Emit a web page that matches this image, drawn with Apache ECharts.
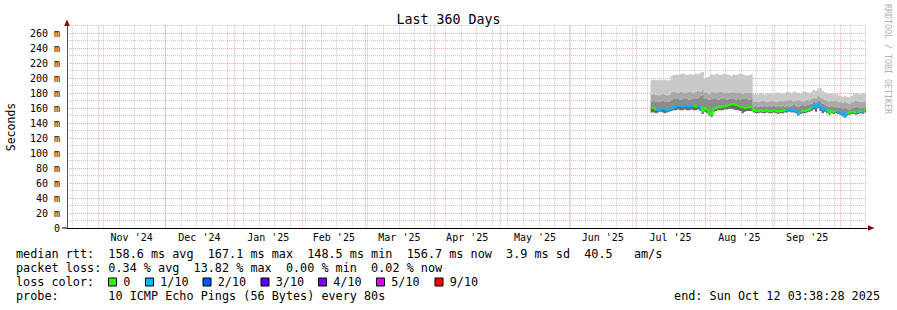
<!DOCTYPE html>
<html><head><meta charset="utf-8">
<script src="https://cdn.jsdelivr.net/npm/echarts@6/dist/echarts.min.js"></script>
<style>html,body{margin:0;padding:0;background:#fff}#c{width:897px;height:310px}</style>
</head><body><div id="c"></div>
<script>
// x values are days after 2024-11-01; first sample is day 249 (2025-07-08), one per day
const firstDay = 249;
const hi = [197,198,197,197,198,197,198,197,197,
  203,204,205,204,205,206,205,204,205,205,204,206,205,207,208,
  200,201,202,
  205,204,206,205,204,205,206,205,204,203,205,204,205,206,205,204,203,204,205,
  178,179,178,180,179,178,179,180,179,178,180,181,180,179,180,
  182,181,180,182,181,180,179,181,182,181,180,
  182,184,183,186,187,183,181,
  180,179,180,178,179,178,
  176,175,176,175,174,176,
  179,180,179,178,180,179];
const p2 = [178,179,178,177,178,179,178,177,178,
  181,182,181,180,182,181,180,181,182,181,180,182,183,182,184,180,181,179,182,181,180,181,182,181,180,181,180,182,181,180,181,180,179,181,180,181,180,
  168,169,168,169,170,169,168,169,170,169,168,169,170,169,170,
  170,171,170,169,170,171,170,169,170,171,170,
  172,174,173,176,175,172,171,
  170,169,170,169,170,169,
  168,167,168,167,166,168,
  169,170,169,168,169,169];
const p1 = [169,170,169,168,169,170,169,168,169,
  171,172,173,172,171,172,173,172,171,172,173,172,174,176,178,172,173,171,172,173,172,171,172,173,172,171,172,173,172,171,172,171,172,173,172,171,172,
  162,163,162,163,162,163,162,163,162,163,162,163,162,163,162,
  163,162,163,164,163,162,163,164,163,164,165,
  166,168,167,170,169,166,165,
  163,162,163,162,161,162,
  160,159,160,159,158,160,
  161,162,161,160,161,161];
const med = [160,160,
  158,157,158,159,158,157,158,
  159,161,162,163,163,162,163,163,162,163,163,162,163,161,
  156,160,158,154,151,
  159,160,161,161,162,162,163,164,165,165,164,163,162,161,160,161,161,161,
  157,156,156,157,156,156,157,156,156,157,156,155,156,156,157,
  157,158,157,157,156,153,155,156,156,157,158,
  160,163,161,166,162,158,160,
  157,154,156,155,156,155,
  154,152,149,153,154,155,
  155,154,155,156,155,157];
const lo = [154,154,153,154,155,154,153,154,155,
  156,157,157,158,157,157,158,157,157,158,157,157,158,156,
  152,155,153,150,148,
  155,156,157,157,157,158,158,159,159,158,157,157,156,153,155,156,156,156,
  154,153,153,154,153,153,154,153,153,154,153,152,153,153,154,
  154,155,154,154,153,150,152,153,153,154,155,
  156,158,155,160,156,153,155,
  153,151,153,152,153,152,
  151,149,147,150,151,152,
  152,151,152,153,152,154];
// loss segments: [fromDay, toDay, lossLevel]
const lossSegs = [[249,251,0],[251,268,1],[268,269.5,0],[269.5,271,1],[271,309,0],[309,316,1],[316,321,0],[321,328,1],[328,332,0],[332,337,1],[337,341,0],[341,342,1],[342,343.5,0],[343.5,344.5,1]];
const lossLevels = ['0','1/10','2/10','3/10','4/10','5/10','9/10'];
const lossColors = ['#26ff00','#00b8ff','#0059ff','#5e00ff','#7e00ff','#dd00ff','#ff0000'];
const lossLevelColor = {0:'#26ff00',1:'#00b8ff',2:'#0059ff',3:'#5e00ff',4:'#7e00ff',5:'#dd00ff',9:'#ff0000'};
const monthStarts = [0,30,61,92,120,151,181,212,242,273,304,334,365];
const monthLabels = ["Nov '24","Dec '24","Jan '25","Feb '25","Mar '25","Apr '25","May '25","Jun '25","Jul '25","Aug '25","Sep '25"];
const yMajor = [0,20,40,60,80,100,120,140,160,180,200,220,240,260];
const yMinor = [10,30,50,70,90,110,130,150,170,190,210,230,250,270];
const statLines = [
  'median rtt:  158.6 ms avg  167.1 ms max  148.5 ms min  156.7 ms now  3.9 ms sd  40.5   am/s',
  'packet loss: 0.34 % avg  13.82 % max  0.00 % min  0.02 % now',
  'loss color:',
  'probe:       10 ICMP Echo Pings (56 Bytes) every 80s'
];
const endText = 'end: Sun Oct 12 03:38:28 2025';

const xMin = -14.085, xMax = xMin + 360;
const weekLines = [];
for (let w = -11.75; w <= xMax; w += 7) weekLines.push(w);
const monthMids = monthLabels.map((_, i) => (monthStarts[i] + monthStarts[i + 1]) / 2);
const xs = med.map((_, i) => firstDay + i);
const MONO = '"DejaVu Sans Mono", monospace';
const FS = 11.8;
const MINOR = 'rgba(150,150,150,0.5)';
const MAJOR = 'rgba(225,90,90,0.5)';

// smoke bands: [lower array, upper array, colour]
const bands = [[lo, med, '#6a6a6a'], [med, p1, '#8c8c8c'], [p1, p2, '#a9a9a9'], [p2, hi, '#c9c9c9']];

const graphic = [
  { type: 'text', x: 448.5, y: 19, style: { text: 'Last 360 Days', font: '13.3px ' + MONO, fill: '#000', align: 'center', verticalAlign: 'middle' } },
  { type: 'text', x: 11, y: 127, rotation: Math.PI / 2, style: { text: 'Seconds', font: '11.5px ' + MONO, fill: '#000', align: 'center', verticalAlign: 'middle' } },
  { type: 'text', x: 887.5, y: 59, rotation: -Math.PI / 2, style: { text: 'RRDTOOL / TOBI OETIKER', font: '8.3px ' + MONO, fill: '#b0b0b0', align: 'center', verticalAlign: 'middle' } },
  { type: 'line', shape: { x1: 62, y1: 228, x2: 67, y2: 228 }, style: { stroke: '#000', lineWidth: 1 } },
  { type: 'polygon', shape: { points: [[67, 19.5], [64.2, 26], [69.8, 26]] }, style: { fill: '#800000' } },
  { type: 'polygon', shape: { points: [[874.5, 228], [868, 225.2], [868, 230.8]] }, style: { fill: '#800000' } },
  { type: 'text', x: 880, y: 296, style: { text: endText, font: FS + 'px ' + MONO, fill: '#000', align: 'right', verticalAlign: 'middle' } }
];
const rowY = [254, 268, 282, 296];
statLines.forEach((t, i) => graphic.push({ type: 'text', x: 16, y: rowY[i], style: { text: t, font: FS + 'px ' + MONO, fill: '#000', align: 'left', verticalAlign: 'middle' } }));
const swatchX = [108.5, 145.5, 203, 261, 318.5, 376.5, 435];
lossLevels.forEach((lab, i) => {
  graphic.push({ type: 'rect', shape: { x: swatchX[i], y: 278, width: 8, height: 8 }, style: { fill: lossColors[i], stroke: '#000', lineWidth: 1 } });
  graphic.push({ type: 'text', x: swatchX[i] + 14.7, y: 282, style: { text: lab, font: FS + 'px ' + MONO, fill: '#000', align: 'left', verticalAlign: 'middle' } });
});

const chart = echarts.init(document.getElementById('c'), null, { renderer: 'svg', width: 897, height: 310 });
chart.setOption({
  animation: false,
  backgroundColor: '#fff',
  grid: { left: 67, top: 25.5, width: 800, height: 202.5 },
  xAxis: [
    { type: 'value', position: 'bottom', min: xMin, max: xMax, axisLine: { show: false }, axisTick: { show: false, customValues: weekLines }, axisLabel: { show: false },
      splitLine: { show: true, lineStyle: { color: MINOR, type: [1, 1], width: 1 } } },
    { type: 'value', position: 'bottom', min: xMin, max: xMax, axisLine: { show: true, onZero: false, lineStyle: { color: '#000', width: 1 } },
      axisTick: { show: false, customValues: monthStarts.slice(0, 12) },
      axisLabel: { customValues: monthMids, margin: 4, fontFamily: MONO, fontSize: 10, color: '#000',
        formatter: v => { const i = monthMids.findIndex(m => Math.abs(m - v) < 0.01); return i >= 0 ? monthLabels[i] : ''; } },
      splitLine: { show: true, lineStyle: { color: MAJOR, type: [1, 1], width: 1 } } }
  ],
  yAxis: [
    { type: 'value', position: 'left', min: 0, max: 270, axisLine: { show: false }, axisTick: { show: false, customValues: yMinor }, axisLabel: { show: false },
      splitLine: { show: true, lineStyle: { color: MINOR, type: [1, 1], width: 1 } } },
    { type: 'value', position: 'left', min: 0, max: 270, axisLine: { show: true, onZero: false, lineStyle: { color: '#555', width: 1 } },
      axisTick: { show: false, customValues: yMajor },
      axisLabel: { customValues: yMajor, margin: 7, fontFamily: MONO, fontSize: 10, color: '#000', formatter: v => v === 0 ? '0' : v + ' m' },
      splitLine: { show: true, lineStyle: { color: MAJOR, type: [1, 1], width: 1 } } }
  ],
  visualMap: {
    show: false, type: 'piecewise', seriesIndex: 1, dimension: 0,
    pieces: lossSegs.map(s => ({ gte: s[0], lt: s[1], color: lossLevelColor[s[2]] })),
    outOfRange: { color: lossLevelColor[0] }
  },
  series: [
    { name: 'smoke', type: 'custom', xAxisIndex: 1, yAxisIndex: 1, silent: true, z: 2,
      data: bands.map((b, i) => [firstDay, b[1][0], i]),
      encode: { x: 0, y: 1 },
      renderItem: (params, api) => {
        const b = bands[params.dataIndex];
        const top = [], bot = [];
        xs.forEach((d, i) => {
          top.push(api.coord([d - 0.5, b[1][i]]), api.coord([d + 0.5, b[1][i]]));
          bot.push(api.coord([d - 0.5, b[0][i]]), api.coord([d + 0.5, b[0][i]]));
        });
        return { type: 'polygon', shape: { points: top.concat(bot.reverse()) }, style: { fill: b[2], stroke: null } };
      } },
    { name: 'median', type: 'line', xAxisIndex: 1, yAxisIndex: 1, step: 'middle', symbol: 'none', silent: true,
      data: xs.map((d, i) => [d, med[i]]), lineStyle: { width: 2 }, z: 5 }
  ],
  graphic
});
</script></body></html>
